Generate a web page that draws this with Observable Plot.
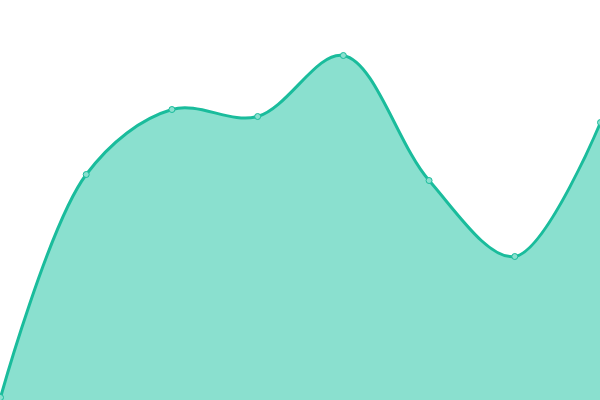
<!DOCTYPE html>
<html><head><meta charset="utf-8">
<script src="https://cdn.jsdelivr.net/npm/d3@7"></script>
<script src="https://cdn.jsdelivr.net/npm/@observablehq/plot@0.6"></script>
<style>html,body{margin:0;padding:0;background:#fff;overflow:hidden}svg{display:block}</style>
</head><body><div id="chart"></div>
<script>
const xs = [0, 1, 2, 3, 4, 5, 6, 7];
const values = [3, 226, 291, 284, 345, 220, 144, 278];
const data = xs.map((x, i) => ({x, y: values[i]}));
const chart = Plot.plot({
  width: 600, height: 400,
  margin: 0,
  x: {domain: [0, 7], axis: null},
  y: {domain: [0, 400], axis: null},
  marks: [
    Plot.areaY(data, {x: "x", y: "y", fill: "#8ae0cf", curve: "catmull-rom"}),
    Plot.lineY(data, {x: "x", y: "y", stroke: "#1abc9c", strokeWidth: 3, curve: "catmull-rom"}),
    Plot.dot(data, {x: "x", y: "y", r: 3, fill: "#8ae0cf", stroke: "#1abc9c", strokeWidth: 1})
  ]
});
document.getElementById("chart").append(chart);
</script></body></html>
